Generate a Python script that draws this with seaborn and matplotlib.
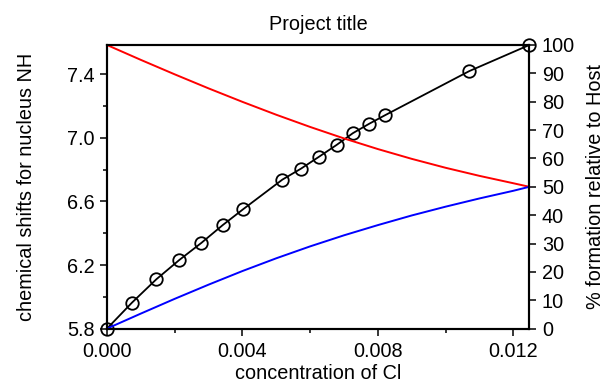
import matplotlib
matplotlib.use("Agg")
import matplotlib.pyplot as plt
import seaborn as sns
from matplotlib.ticker import MultipleLocator, FormatStrFormatter

# Titration points: guest concentration and observed NH chemical shift
conc = [0.0, 0.00074, 0.00146, 0.00213, 0.00279, 0.00342, 0.00403,
        0.00518, 0.00573, 0.00627, 0.00678, 0.00726, 0.00774, 0.00821,
        0.01070, 0.01247]
shift_nh = [5.800, 5.964, 6.111, 6.231, 6.340, 6.452, 6.553,
            6.738, 6.807, 6.883, 6.956, 7.030, 7.089, 7.143,
            7.421, 7.585]

# Species distribution (% relative to host)
conc_species = [0.0, 0.001, 0.002, 0.003, 0.004, 0.005, 0.006, 0.007,
                0.008, 0.009, 0.010, 0.011, 0.012, 0.01247]
free_host = [100.0, 94.75, 89.65, 84.7, 79.95, 75.4, 71.1, 67.05,
             63.3, 59.85, 56.7, 53.85, 51.25, 50.0]
complex_pct = [0.0, 5.3, 10.5, 15.5, 20.3, 24.8, 29.0, 32.9,
               36.5, 39.9, 43.0, 45.9, 48.6, 50.0]

title = "Project title"
xlabel = "concentration of Cl"
ylabel_left = "chemical shifts for nucleus NH"
ylabel_right = "% formation relative to Host"

sns.set_theme(style="ticks")
plt.rcParams["font.family"] = ["Liberation Sans", "DejaVu Sans"]
plt.rcParams["axes.linewidth"] = 1.5
plt.rcParams["axes.edgecolor"] = "black"

FS = 14.3
fig = plt.figure(figsize=(6.13, 3.87), dpi=100)
ax = fig.add_axes([107 / 613, 1 - 328.6 / 387, 422.3 / 613, 283.6 / 387])
ax2 = ax.twinx()

sns.lineplot(x=conc, y=shift_nh, ax=ax, color="black", linewidth=1.3,
             marker="o", markersize=9, markerfacecolor="none",
             markeredgecolor="black", markeredgewidth=1.3, clip_on=False,
             zorder=5)
sns.lineplot(x=conc_species, y=free_host, ax=ax2, color="#ff0000",
             linewidth=1.4, clip_on=False)
sns.lineplot(x=conc_species, y=complex_pct, ax=ax2, color="#0000ff",
             linewidth=1.4, clip_on=False)

ax.set_xlim(conc[0], conc[-1])
ax.set_ylim(shift_nh[0], shift_nh[-1])
ax2.set_ylim(0, 100)

ax.xaxis.set_major_locator(MultipleLocator(0.004))
ax.xaxis.set_minor_locator(MultipleLocator(0.002))
ax.xaxis.set_major_formatter(FormatStrFormatter("%.3f"))
ax.yaxis.set_major_locator(MultipleLocator(0.4, offset=0.2))
ax.yaxis.set_minor_locator(MultipleLocator(0.2))
ax.yaxis.set_major_formatter(FormatStrFormatter("%.1f"))
ax2.yaxis.set_major_locator(MultipleLocator(10))

for a in (ax, ax2):
    a.tick_params(which="major", direction="out", length=5, width=1.1,
                  labelsize=FS, colors="black", pad=4)
    a.tick_params(which="minor", direction="out", length=3.2, width=1.1,
                  colors="black")
    for s in a.spines.values():
        s.set_linewidth(1.5)
        s.set_color("black")
ax.tick_params(axis="x", which="major", pad=5)
ax2.tick_params(axis="y", which="minor", length=0)

ax.set_title(title, fontsize=FS, pad=11, color="black")
ax.set_xlabel(xlabel, fontsize=FS, color="black")
ax.set_ylabel(ylabel_left, fontsize=FS, color="black")
ax2.set_ylabel(ylabel_right, fontsize=FS, color="black")
ax.xaxis.set_label_coords(0.5, -0.125)
ax.yaxis.set_label_coords(-0.169, 0.5)
ax2.yaxis.set_label_coords(1.134, 0.5)

fig.savefig("out.png", dpi=100, facecolor="white")
